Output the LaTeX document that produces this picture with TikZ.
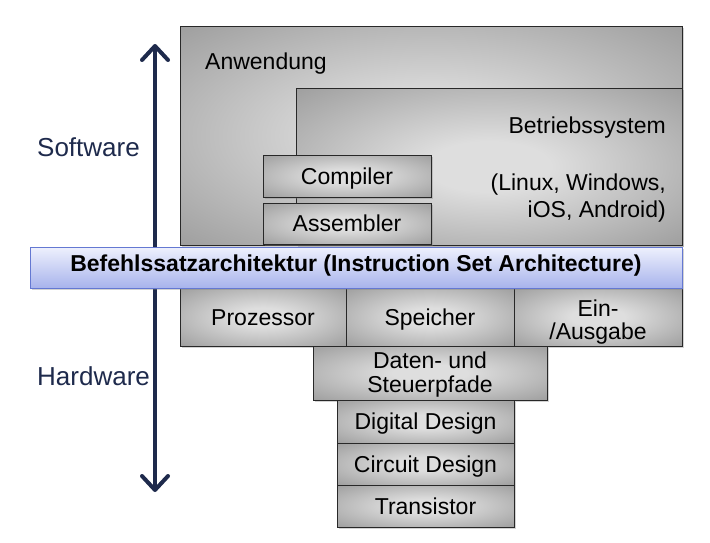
\documentclass[tikz,border=0pt]{standalone}
\usepackage{fontspec}
\setmainfont{Liberation Sans}
\usetikzlibrary{arrows.meta,shadows}
\definecolor{navy}{RGB}{30,42,76}
\definecolor{boxin}{RGB}{222,222,222}
\definecolor{boxout}{RGB}{125,125,125}
\definecolor{isatop}{RGB}{238,241,253}
\definecolor{isabot}{RGB}{168,179,236}
\definecolor{isaline}{RGB}{100,120,210}
\definecolor{boxline}{RGB}{40,40,40}
\pgfdeclareradialshading{boxshade}{\pgfpoint{0bp}{0bp}}{color(0bp)=(boxin); color(8bp)=(boxin); color(50bp)=(boxout)}
\begin{document}
\begin{tikzpicture}[x=1pt,y=-1pt,
  box/.style={draw=boxline, line width=1pt, shade, shading=boxshade,
    inner sep=0pt, outer sep=0pt, anchor=north west,
    font=\fontsize{23}{26}\selectfont, text height=17pt, text depth=0.6pt,
    drop shadow={shadow xshift=1.5pt,shadow yshift=-1.5pt,opacity=0.35}},
  lbl/.style={font=\fontsize{23}{27}\selectfont, inner sep=0pt},
  side/.style={font=\fontsize{26}{30}\selectfont, inner sep=0pt, text=navy, anchor=base west},
  isa/.style={draw=isaline, line width=1pt, top color=isatop, bottom color=isabot,
    inner sep=0pt, outer sep=0pt, anchor=north west,
    drop shadow={shadow xshift=1.5pt,shadow yshift=-2pt,opacity=0.35}}]
\useasboundingbox (0,0) rectangle (710,542);
% software boxes
\node[box, minimum width=502pt, minimum height=219pt] (anw) at (180,26) {};
\node[lbl, anchor=base west] (anwt) at (205,69) {Anwendung};
\node[box, minimum width=386pt, minimum height=157pt] (bs) at (296,88) {};
\node[lbl, anchor=base east] (bst) at (666,133) {Betriebssystem};
\node[lbl, anchor=base east] (bsx1) at (666,190) {(Linux, Windows,};
\node[lbl, anchor=base east] (bsx2) at (666,217) {iOS, Android)};
\node[box, minimum width=168pt, minimum height=42pt] (comp) at (263,155) {Compiler};
\node[box, minimum width=168pt, minimum height=41pt] (asm) at (263,203) {Assembler};
% hardware boxes
\node[box, minimum width=166pt, minimum height=58pt] (proz) at (180,288) {Prozessor};
\node[box, minimum width=168pt, minimum height=58pt] (spei) at (346,288) {Speicher};
\node[box, minimum width=168pt, minimum height=58pt] (eio) at (514,288) {};
\node[lbl, anchor=base] (eio1) at (598,316) {Ein-};
\node[lbl, anchor=base] (eio2) at (598,339) {/Ausgabe};
\node[box, minimum width=234pt, minimum height=54pt] (daten) at (313,346) {};
\node[lbl, anchor=base] (dat1) at (430,368) {Daten- und};
\node[lbl, anchor=base] (dat2) at (430,392) {Steuerpfade};
\node[box, minimum width=177pt, minimum height=43pt] (dig) at (337,400) {Digital Design};
\node[box, minimum width=177pt, minimum height=42pt] (circ) at (337,443) {Circuit Design};
\node[box, minimum width=177pt, minimum height=42pt] (trans) at (337,485) {Transistor};
% arrow
\coordinate (atop) at (155,44);
\coordinate (abot) at (155,492);
\draw[navy, line width=4pt, {Straight Barb[length=14pt,width=26pt,round]}-{Straight Barb[length=14pt,width=26pt,round]}] (abot) -- (atop);
\node[side] (sw) at (37,156) {Software};
\node[side] (hw) at (37,385) {Hardware};
% ISA bar
\node[isa, minimum width=652pt, minimum height=41pt] (isa) at (30,247) {};
\node[lbl, anchor=base, font=\fontsize{23}{27}\selectfont\bfseries] (isat) at (356,271) {Befehlssatzarchitektur (Instruction Set Architecture)};
\end{tikzpicture}
\end{document}
